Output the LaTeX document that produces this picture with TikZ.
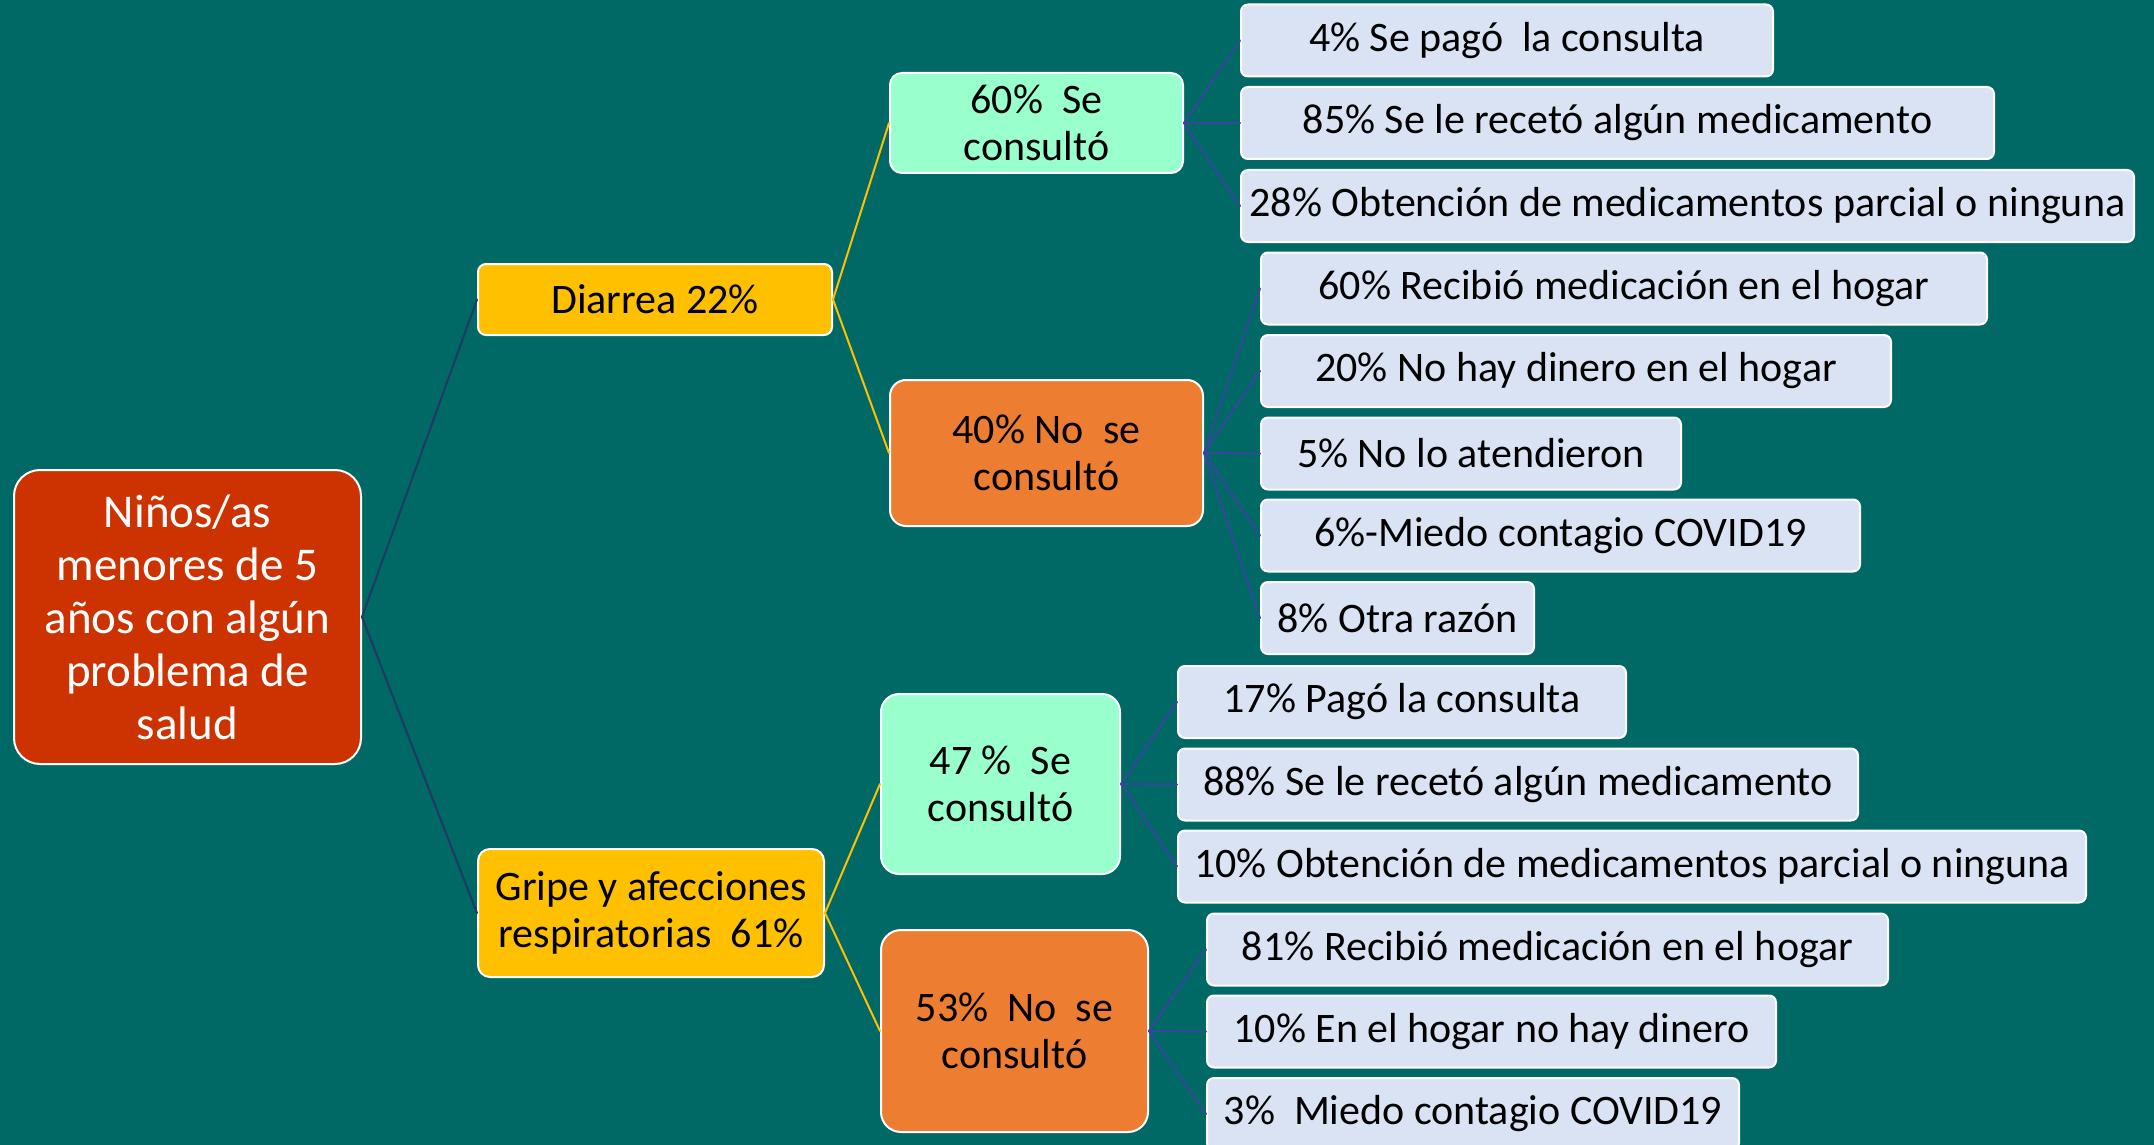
\documentclass[tikz,border=0pt]{standalone}
\usepackage{fontspec}
\setmainfont{Carlito}
\definecolor{fondo}{RGB}{0,105,101}
\definecolor{rojo}{RGB}{204,51,0}
\definecolor{oro}{RGB}{255,192,0}
\definecolor{menta}{RGB}{153,255,204}
\definecolor{naranja}{RGB}{237,125,49}
\definecolor{celeste}{RGB}{218,227,243}
\definecolor{azul}{RGB}{32,56,100}
\definecolor{azulino}{RGB}{52,72,155}
\tikzset{
    caja/.style = {draw=white, line width=1pt, inner sep=0pt, align=center, text=black,
        font=\fontsize{21}{23.5}\selectfont},
    raizbox/.style = {caja, fill=rojo, text=white, rounded corners=13pt,
        font=\fontsize{23.5}{26.5}\selectfont},
    temabox/.style = {caja, fill=oro, rounded corners=4pt},
    sibox/.style = {caja, fill=menta, rounded corners=6pt},
    nobox/.style = {caja, fill=naranja, rounded corners=8pt},
    hojabox/.style = {caja, fill=celeste, rounded corners=3.5pt, anchor=west, minimum height=36pt},
    linearaiz/.style = {azul, line width=1pt},
    lineatema/.style = {oro, line width=1pt},
    lineasub/.style = {azulino, line width=1pt}
}
\begin{document}
\begin{tikzpicture}[x=0.5pt,y=-0.5pt,line cap=round,line join=round]
\fill[fondo] (0,0) rectangle (2154,1145);
\useasboundingbox (0,0) rectangle (2154,1145);
% raiz
\node[raizbox, minimum width=173.5pt, minimum height=147pt] (raiz) at (187.5,617) {Niños/as\\menores de 5\\años con algún\\problema de\\salud};
% temas
\node[temabox, minimum width=177pt, minimum height=35.5pt] (diarrea) at (655,299.5) {Diarrea 22\%};
\node[temabox, minimum width=173pt, minimum height=64pt, rounded corners=6pt] (gripe) at (651,913) {Gripe y afecciones\\respiratorias\ \ 61\%};
% consulta
\node[sibox, minimum width=146.5pt, minimum height=50pt] (dsi) at (1036.5,123) {60\%\ \ Se\\consultó};
\node[nobox, minimum width=156.5pt, minimum height=73pt] (dno) at (1046.5,453) {40\% No\ \ se\\consultó};
\node[sibox, minimum width=119.5pt, minimum height=90pt, rounded corners=9pt] (gsi) at (1000.5,784) {47 \%\ \ Se\\consultó};
\node[nobox, minimum width=133.5pt, minimum height=101pt, rounded corners=10pt] (gno) at (1014.5,1031) {53\%\ \ No\ \ se\\consultó};
% hojas diarrea
\node[hojabox, minimum width=266pt] (d1) at (1240,40.5) {4\% Se pagó\ \ la consulta};
\node[hojabox, minimum width=376.5pt] (d2) at (1240,123) {85\% Se le recetó algún medicamento};
\node[hojabox, minimum width=446.5pt] (d3) at (1240,206) {28\% Obtención de medicamentos parcial o ninguna};
\node[hojabox, minimum width=363pt] (d4) at (1260,288.5) {60\% Recibió medicación en el hogar};
\node[hojabox, minimum width=315pt] (d5) at (1260,371) {20\% No hay dinero en el hogar};
\node[hojabox, minimum width=210pt] (d6) at (1260,453.5) {5\% No lo atendieron};
\node[hojabox, minimum width=299.5pt] (d7) at (1260,535.5) {6\%-Miedo contagio COVID19};
\node[hojabox, minimum width=136.5pt] (d8) at (1260,618) {8\% Otra razón};
% hojas gripe
\node[hojabox, minimum width=224pt] (g1) at (1177,702) {17\% Pagó la consulta};
\node[hojabox, minimum width=340pt] (g2) at (1177,784.5) {88\% Se le recetó algún medicamento};
\node[hojabox, minimum width=454pt] (g3) at (1177,866.5) {10\% Obtención de medicamentos parcial o ninguna};
\node[hojabox, minimum width=340.5pt] (g4) at (1206,949.5) {81\% Recibió medicación en el hogar};
\node[hojabox, minimum width=284.5pt] (g5) at (1206,1031.5) {10\% En el hogar no hay dinero};
\node[hojabox, minimum width=266pt] (g6) at (1206,1114) {3\%\ \ Miedo contagio COVID19};
% conectores
\draw[linearaiz] (raiz.east) -- (diarrea.west);
\draw[linearaiz] (raiz.east) -- (gripe.west);
\draw[lineatema] (diarrea.east) -- (dsi.west);
\draw[lineatema] (diarrea.east) -- (dno.west);
\draw[lineatema] (gripe.east) -- (gsi.west);
\draw[lineatema] (gripe.east) -- (gno.west);
\foreach \h in {d1,d2,d3} \draw[lineasub] (dsi.east) -- (\h.west);
\foreach \h in {d4,d5,d6,d7,d8} \draw[lineasub] (dno.east) -- (\h.west);
\foreach \h in {g1,g2,g3} \draw[lineasub] (gsi.east) -- (\h.west);
\foreach \h in {g4,g5,g6} \draw[lineasub] (gno.east) -- (\h.west);
\end{tikzpicture}
\end{document}
